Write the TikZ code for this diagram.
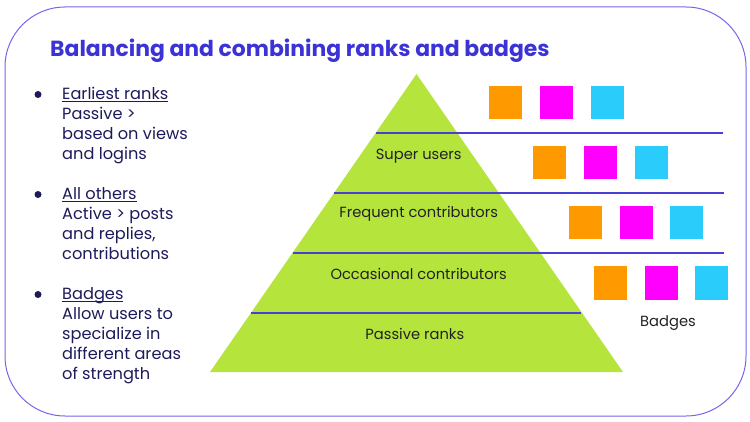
\documentclass[tikz,border=0pt]{standalone}
\usepackage{fontspec}
\setmainfont{Poppins}
\definecolor{titleblue}{HTML}{3C33D6}
\definecolor{framec}{HTML}{7466EC}
\definecolor{rulec}{HTML}{4B3FD3}
\definecolor{leaf}{HTML}{B5E43C}
\definecolor{navy}{HTML}{1C1A5A}
\definecolor{ink}{HTML}{222222}
\definecolor{borange}{HTML}{FF9900}
\definecolor{bmagenta}{HTML}{FF00FF}
\definecolor{bcyan}{HTML}{29CCFA}
\newcommand{\uline}[1]{\underline{\smash{#1}}}
\begin{document}
\begin{tikzpicture}[x=1pt,y=-1pt,
    txt/.style={font=\fontsize{16.2}{20}\selectfont,text=navy,align=left,anchor=base west,inner sep=0pt},
    dot/.style={circle,fill=navy,inner sep=0pt,minimum size=7pt},
    tier/.style={font=\fontsize{14.7}{16}\selectfont,text=ink},
    badge/.style={minimum size=33pt,inner sep=0pt}]
  \useasboundingbox (0,0) rectangle (750,422);
  \draw[framec,line width=1pt,rounded corners=60pt] (5,7) rectangle (746,416);
  \node[anchor=base west,inner sep=0pt,text=titleblue,font=\fontsize{21.9}{24}\bfseries] (title) at (50,56.5)
    {Balancing and combining ranks and badges};

  \node[dot] (d1) at (38,94.5) {};
  \node[dot] (d2) at (38,194.5) {};
  \node[dot] (d3) at (38,294.5) {};
  \node[txt] (earliest) at (62,159.5) {\uline{Earliest ranks}\\Passive >\\based on views\\and logins};
  \node[txt] (others) at (62,259.5) {\uline{All others}\\Active > posts\\and replies,\\contributions};
  \node[txt] (badges) at (62,379.5) {\uline{Badges}\\Allow users to\\specialize in\\different areas\\of strength};

  \fill[leaf] (416.5,74) -- (623,372) -- (210,372) -- cycle;
  \begin{scope}[rulec,line width=1.5pt]
    \draw (375.5,133) -- (723,133);
    \draw (334,193) -- (724,193);
    \draw (292.5,253) -- (724,253);
    \draw (251,313) -- (581,313);
  \end{scope}
  \node[tier] (super) at (418.7,156.7) {Super users};
  \node[tier] (frequent) at (418.7,214) {Frequent contributors};
  \node[tier] (occasional) at (418.7,273.7) {Occasional contributors};
  \node[tier] (passive) at (414.8,334) {Passive ranks};

  \foreach \r/\x/\y in {1/505.6/103,2/549.7/163,3/585.4/223,4/610.4/283} {
    \node[badge,fill=borange] (o\r) at (\x,\y) {};
    \node[badge,fill=bmagenta] (m\r) at (\x+50.7,\y) {};
    \node[badge,fill=bcyan] (c\r) at (\x+101.4,\y) {};
  }
  \node[tier] (badgelabel) at (668,323.3) {Badges};
\end{tikzpicture}
\end{document}
